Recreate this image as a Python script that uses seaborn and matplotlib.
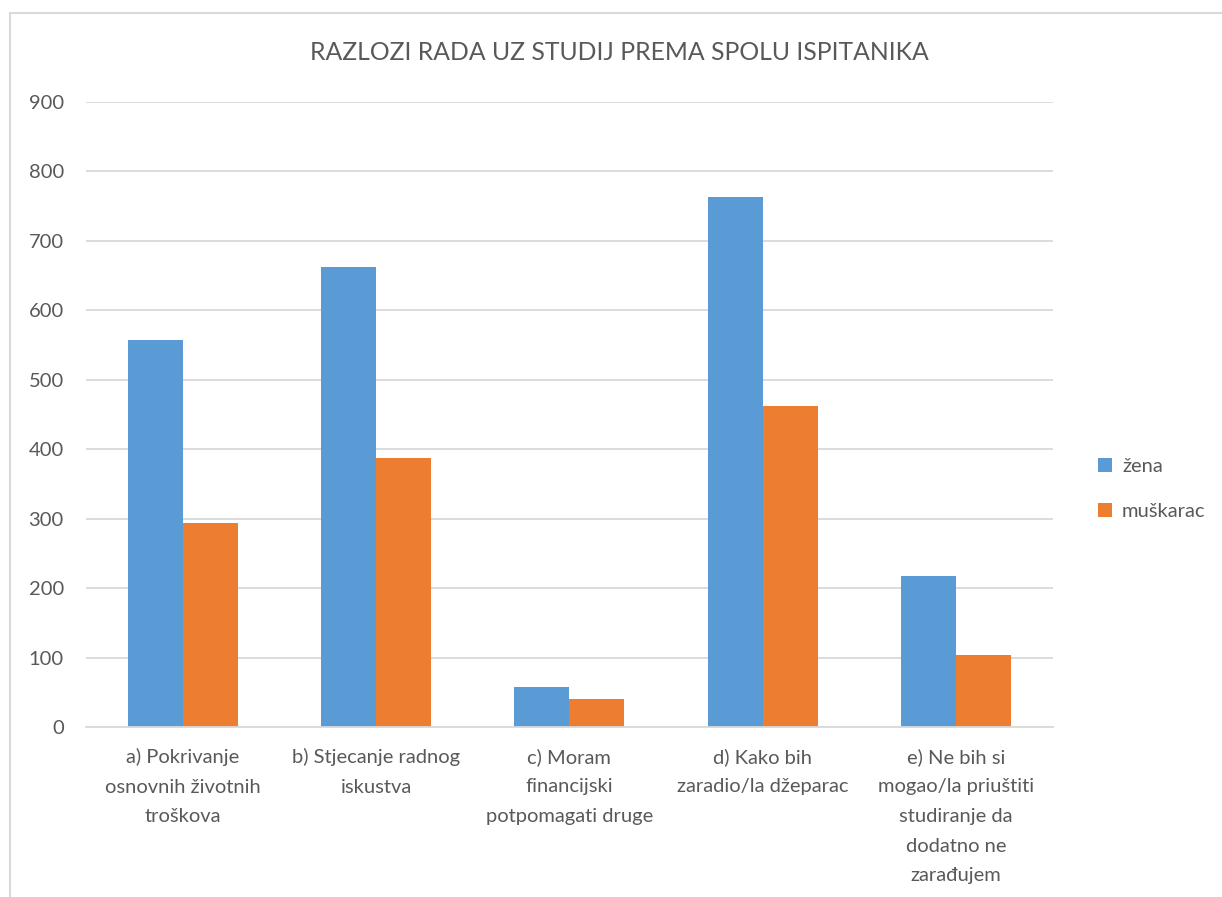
import matplotlib
matplotlib.use('Agg')
import matplotlib.pyplot as plt
import seaborn as sns
import pandas as pd
from matplotlib.patches import Rectangle

# Data
categories = ['a) Pokrivanje\nosnovnih životnih\ntroškova',
              'b) Stjecanje radnog\niskustva',
              'c) Moram\nfinancijski\npotpomagati druge',
              'd) Kako bih\nzaradio/la džeparac',
              'e) Ne bih si\nmogao/la priuštiti\nstudiranje da\ndodatno ne\nzarađujem']
zena = [557, 662, 57, 763, 217]
muskarac = [294, 387, 40, 462, 103]
series = ['žena', 'muškarac']

df = pd.DataFrame({
    'kategorija': categories * 2,
    'spol': [series[0]] * len(categories) + [series[1]] * len(categories),
    'broj': zena + muskarac,
})

sns.set_theme(style='white')
plt.rcParams['font.family'] = ['Lato', 'DejaVu Sans']
text_col = '#595959'

fig = plt.figure(figsize=(12.22, 8.97), dpi=100)
ax = fig.add_axes([0.0704, 0.1895, 0.791, 0.6968])

sns.barplot(data=df, x='kategorija', y='broj', hue='spol', ax=ax,
            palette=['#5B9BD5', '#ED7D31'], width=0.57, gap=0,
            saturation=1, edgecolor='none', legend=True)

ax.set_ylim(0, 900)
ax.set_xlim(-0.5, 4.5)
ax.set_yticks(range(0, 901, 100))
ax.yaxis.grid(True, color='#D9D9D9', linewidth=1.3)
ax.set_axisbelow(True)
for s in ['top', 'right', 'left']:
    ax.spines[s].set_visible(False)
ax.spines['bottom'].set_color('#D9D9D9')
ax.spines['bottom'].set_linewidth(1.3)
ax.set_xlabel('')
ax.set_ylabel('')
ax.tick_params(axis='both', length=0, labelsize=14.5, labelcolor=text_col)
ax.tick_params(axis='y', pad=16)
ax.tick_params(axis='x', pad=15)
for lbl in ax.get_xticklabels():
    lbl.set_linespacing(1.9)

fig.text(0.507, 0.942, 'RAZLOZI RADA UZ STUDIJ PREMA SPOLU ISPITANIKA',
         ha='center', va='center', fontsize=17.8, color=text_col)

ax.legend(loc='center left', bbox_to_anchor=(1.028, 0.381), frameon=False,
          fontsize=14.5, labelcolor=text_col,
          handlelength=0.7, handleheight=0.7,
          handletextpad=0.5, labelspacing=1.4)

# chart area border
fig.patches.append(Rectangle((10 / 1222, -0.05), 1.2, (897 - 13) / 897 + 0.05,
                             transform=fig.transFigure, fill=False,
                             edgecolor='#D9D9D9', linewidth=1.5))

fig.savefig('out.png', dpi=100)
